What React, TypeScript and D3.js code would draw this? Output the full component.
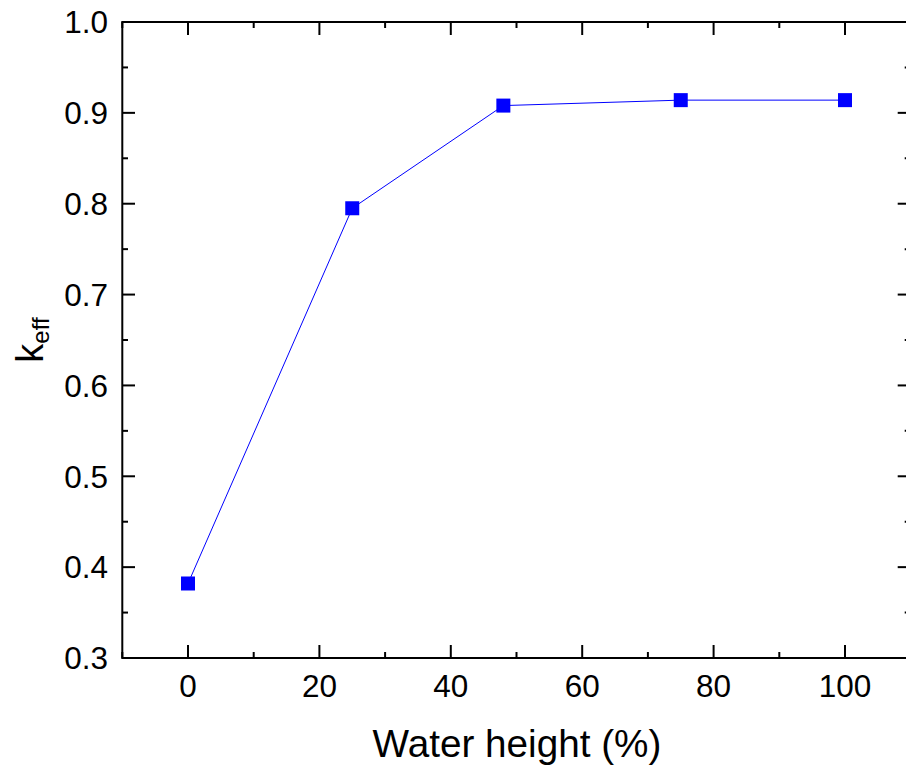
import React from "react";
import * as d3 from "d3";

const waterHeight = [0, 25, 48, 75, 100];
const keff = [0.382, 0.795, 0.908, 0.914, 0.914];
const xTicks = [0, 20, 40, 60, 80, 100];
const xMinor = [-10, 10, 30, 50, 70, 90, 110];
const yTicks = [0.3, 0.4, 0.5, 0.6, 0.7, 0.8, 0.9, 1.0];
const yMinor = [0.35, 0.45, 0.55, 0.65, 0.75, 0.85, 0.95];

export default function App() {
  const W = 906, H = 765;
  const left = 122, top = 22, bottom = 658;
  const x = d3.scaleLinear().domain([0, 100]).range([188, 845]);
  const xMinV = -10, xMaxV = 110;
  const right = x(xMaxV);
  const y = d3.scaleLinear().domain([0.3, 1.0]).range([bottom, top]);
  const line = d3.line<number>().x((_, i) => x(waterHeight[i])).y((d) => y(d));
  const font = "'Liberation Sans', Arial, sans-serif";
  const major = 13, minor = 6;
  const m = 14;
  return (
    <svg width={W} height={H} style={{ position: "absolute", left: 0, top: 0, background: "#fff" }}>
      <rect x={0} y={0} width={W} height={H} fill="#fff" />
      <path d={line(keff) || ""} fill="none" stroke="#0000ff" strokeWidth={1} />
      {keff.map((v, i) => (
        <rect key={i} x={x(waterHeight[i]) - m / 2} y={y(v) - m / 2} width={m} height={m} fill="#0000ff" />
      ))}
      <rect x={x(xMinV)} y={top} width={right - x(xMinV)} height={bottom - top} fill="none" stroke="#000" strokeWidth={2} />
      {xTicks.map((t) => (
        <g key={"x" + t}>
          <line x1={x(t)} x2={x(t)} y1={bottom} y2={bottom - major} stroke="#000" strokeWidth={2} />
          <line x1={x(t)} x2={x(t)} y1={top} y2={top + major} stroke="#000" strokeWidth={2} />
          <text x={x(t)} y={697} textAnchor="middle" fontFamily={font} fontSize={31.5} fill="#000">{t}</text>
        </g>
      ))}
      {xMinor.map((t) => (
        <g key={"xm" + t}>
          <line x1={x(t)} x2={x(t)} y1={bottom} y2={bottom - minor} stroke="#000" strokeWidth={2} />
          <line x1={x(t)} x2={x(t)} y1={top} y2={top + minor} stroke="#000" strokeWidth={2} />
        </g>
      ))}
      {yTicks.map((t) => (
        <g key={"y" + t}>
          <line x1={left} x2={left + major} y1={y(t)} y2={y(t)} stroke="#000" strokeWidth={2} />
          <line x1={right} x2={right - major} y1={y(t)} y2={y(t)} stroke="#000" strokeWidth={2} />
          <text x={108} y={y(t)} dy="0.36em" textAnchor="end" fontFamily={font} fontSize={31.5} fill="#000">{t.toFixed(1)}</text>
        </g>
      ))}
      {yMinor.map((t) => (
        <g key={"ym" + t}>
          <line x1={left} x2={left + minor} y1={y(t)} y2={y(t)} stroke="#000" strokeWidth={2} />
          <line x1={right} x2={right - minor} y1={y(t)} y2={y(t)} stroke="#000" strokeWidth={2} />
        </g>
      ))}
      <text x={517} y={757} textAnchor="middle" fontFamily={font} fontSize={38.7} fill="#000">Water height (%)</text>
      <text transform={`translate(43,340) rotate(-90)`} textAnchor="middle" fontFamily={font} fontSize={38} fill="#000">
        k<tspan fontSize={24} dy={6}>eff</tspan>
      </text>
    </svg>
  );
}
